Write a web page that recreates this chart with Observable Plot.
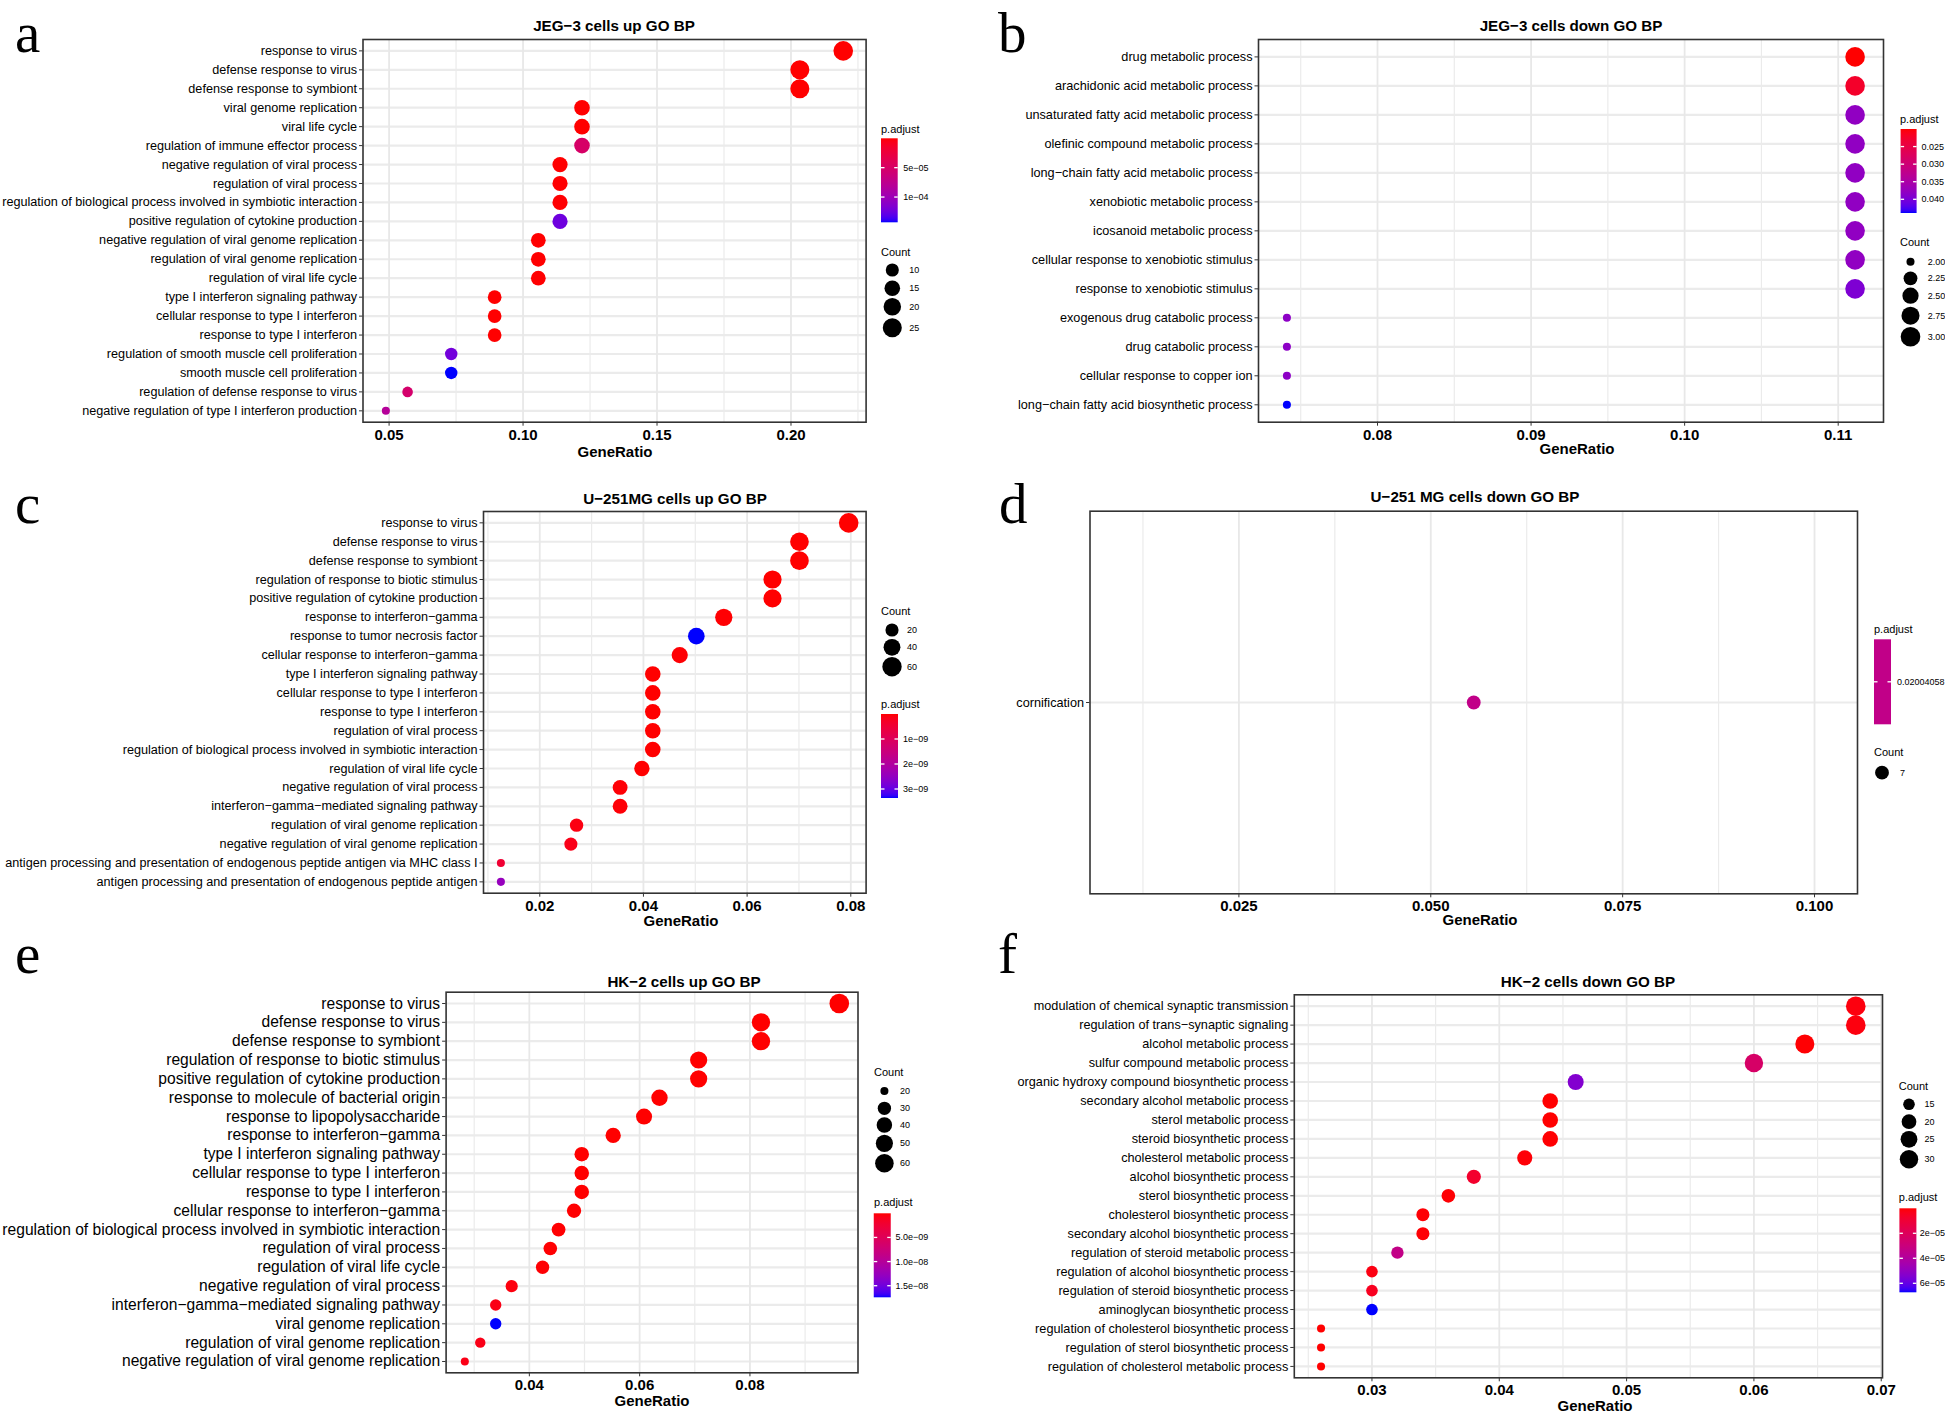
<!DOCTYPE html>
<html><head><meta charset="utf-8">
<script src="https://cdn.jsdelivr.net/npm/d3@7"></script>
<script src="https://cdn.jsdelivr.net/npm/@observablehq/plot@0.6"></script>
<style>
html,body{margin:0;padding:0;background:#fff;}
#root{position:relative;width:1945px;height:1412px;overflow:hidden;background:#fff;}
</style></head>
<body><div id="root"></div>
<script>
// ---------------- DATA ----------------
const termsA = ["response to virus","defense response to virus","defense response to symbiont","viral genome replication","viral life cycle","regulation of immune effector process","negative regulation of viral process","regulation of viral process","regulation of biological process involved in symbiotic interaction","positive regulation of cytokine production","negative regulation of viral genome replication","regulation of viral genome replication","regulation of viral life cycle","type I interferon signaling pathway","cellular response to type I interferon","response to type I interferon","regulation of smooth muscle cell proliferation","smooth muscle cell proliferation","regulation of defense response to virus","negative regulation of type I interferon production"];
const ratioA = [0.2195,0.2033,0.2033,0.1220,0.1220,0.1220,0.1138,0.1138,0.1138,0.1138,0.1057,0.1057,0.1057,0.0894,0.0894,0.0894,0.0732,0.0732,0.0569,0.0488];
const countA = [27,25,25,15,15,15,14,14,14,14,13,13,13,11,11,11,9,9,7,6];
const padjA = [2.1e-12,5.3e-11,5.3e-11,6.4e-8,9.8e-8,5.0e-5,3.1e-7,4.6e-7,4.6e-7,1.24e-4,1.5e-7,2.8e-7,3.3e-7,1.2e-7,1.2e-7,1.3e-7,1.22e-4,1.43e-4,5.3e-5,8.2e-5];

const termsB = ["drug metabolic process","arachidonic acid metabolic process","unsaturated fatty acid metabolic process","olefinic compound metabolic process","long−chain fatty acid metabolic process","xenobiotic metabolic process","icosanoid metabolic process","cellular response to xenobiotic stimulus","response to xenobiotic stimulus","exogenous drug catabolic process","drug catabolic process","cellular response to copper ion","long−chain fatty acid biosynthetic process"];
const ratioB = [0.1111,0.1111,0.1111,0.1111,0.1111,0.1111,0.1111,0.1111,0.1111,0.0741,0.0741,0.0741,0.0741];
const countB = [3,3,3,3,3,3,3,3,3,2,2,2,2];
const padjB = [0.0200,0.0224,0.0379,0.0379,0.0379,0.0379,0.0379,0.0379,0.0396,0.0383,0.0383,0.0383,0.0439];

const termsC = ["response to virus","defense response to virus","defense response to symbiont","regulation of response to biotic stimulus","positive regulation of cytokine production","response to interferon−gamma","response to tumor necrosis factor","cellular response to interferon−gamma","type I interferon signaling pathway","cellular response to type I interferon","response to type I interferon","regulation of viral process","regulation of biological process involved in symbiotic interaction","regulation of viral life cycle","negative regulation of viral process","interferon−gamma−mediated signaling pathway","regulation of viral genome replication","negative regulation of viral genome replication","antigen processing and presentation of endogenous peptide antigen via MHC class I","antigen processing and presentation of endogenous peptide antigen"];
const ratioC = [0.0796,0.0701,0.0701,0.0649,0.0649,0.0555,0.0502,0.0470,0.0418,0.0418,0.0418,0.0418,0.0418,0.0397,0.0355,0.0355,0.0271,0.0260,0.0125,0.0125];
const countC = [62,54,54,50,50,43,39,36,32,32,32,32,32,31,28,28,21,20,10,10];
const padjC = [1.2e-15,4.0e-14,4.0e-14,2.0e-12,3.0e-12,1.5e-11,3.36e-9,2.0e-11,1.0e-13,1.0e-13,1.2e-13,2.0e-12,2.0e-12,6.0e-12,3.0e-11,4.0e-11,1.0e-10,1.5e-10,4.5e-10,2.45e-9];

const termsD = ["cornification"];
const ratioD = [0.0556];
const countD = [7];
const padjD = [0.02004058];

const termsE = ["response to virus","defense response to virus","defense response to symbiont","regulation of response to biotic stimulus","positive regulation of cytokine production","response to molecule of bacterial origin","response to lipopolysaccharide","response to interferon−gamma","type I interferon signaling pathway","cellular response to type I interferon","response to type I interferon","cellular response to interferon−gamma","regulation of biological process involved in symbiotic interaction","regulation of viral process","regulation of viral life cycle","negative regulation of viral process","interferon−gamma−mediated signaling pathway","viral genome replication","regulation of viral genome replication","negative regulation of viral genome replication"];
const ratioE = [0.0962,0.0820,0.0820,0.0707,0.0707,0.0636,0.0608,0.0552,0.0495,0.0495,0.0495,0.0481,0.0453,0.0438,0.0424,0.0368,0.0339,0.0339,0.0311,0.0283];
const countE = [68,58,58,50,50,45,43,39,35,35,35,34,32,31,30,26,24,24,22,20];
const padjE = [1.0e-15,2.0e-14,2.0e-14,5.0e-13,8.0e-13,3.0e-12,6.0e-12,4.0e-12,2.0e-13,2.0e-13,2.5e-13,2.0e-11,6.0e-11,8.0e-11,1.2e-10,4.0e-10,7.0e-10,1.74e-8,7.5e-10,7.0e-10];

const termsF = ["modulation of chemical synaptic transmission","regulation of trans−synaptic signaling","alcohol metabolic process","sulfur compound metabolic process","organic hydroxy compound biosynthetic process","secondary alcohol metabolic process","sterol metabolic process","steroid biosynthetic process","cholesterol metabolic process","alcohol biosynthetic process","sterol biosynthetic process","cholesterol biosynthetic process","secondary alcohol biosynthetic process","regulation of steroid metabolic process","regulation of alcohol biosynthetic process","regulation of steroid biosynthetic process","aminoglycan biosynthetic process","regulation of cholesterol biosynthetic process","regulation of sterol biosynthetic process","regulation of cholesterol metabolic process"];
const ratioF = [0.068,0.068,0.064,0.060,0.046,0.044,0.044,0.044,0.042,0.038,0.036,0.034,0.034,0.032,0.030,0.030,0.030,0.026,0.026,0.026];
const countF = [34,34,32,30,23,22,22,22,21,19,18,17,17,16,15,15,15,13,13,13];
const padjF = [1.5e-6,1.5e-6,3.0e-7,2.35e-5,5.4e-5,1.0e-7,1.0e-7,2.0e-7,8.0e-7,7.5e-6,4.0e-7,6.0e-7,6.0e-7,3.3e-5,2.0e-6,4.5e-6,6.72e-5,1.2e-8,1.2e-8,1.2e-8];

// axis ticks (major / minor) and legend breaks
const majorA = [0.05,0.10,0.15,0.20], minorA = [0.075,0.125,0.175,0.225];
const majorB = [0.08,0.09,0.10,0.11], minorB = [0.075,0.085,0.095,0.105];
const majorC = [0.02,0.04,0.06,0.08], minorC = [0.01,0.03,0.05,0.07];
const majorD = [0.025,0.050,0.075,0.100], minorD = [0.0125,0.0375,0.0625,0.0875];
const majorE = [0.04,0.06,0.08], minorE = [0.03,0.05,0.07,0.09];
const majorF = [0.03,0.04,0.05,0.06,0.07], minorF = [0.025,0.035,0.045,0.055,0.065];

const pBreaksA = [5e-5,1e-4], pLabelsA = ["5e−05","1e−04"];
const pBreaksB = [0.025,0.030,0.035,0.040], pLabelsB = ["0.025","0.030","0.035","0.040"];
const pBreaksC = [1e-9,2e-9,3e-9], pLabelsC = ["1e−09","2e−09","3e−09"];
const pBreaksD = [0.02004058], pLabelsD = ["0.02004058"];
const pBreaksE = [5e-9,1e-8,1.5e-8], pLabelsE = ["5.0e−09","1.0e−08","1.5e−08"];
const pBreaksF = [2e-5,4e-5,6e-5], pLabelsF = ["2e−05","4e−05","6e−05"];

const cBreaksA = [10,15,20,25], cLabelsA = ["10","15","20","25"];
const cBreaksB = [2,2.25,2.5,2.75,3], cLabelsB = ["2.00","2.25","2.50","2.75","3.00"];
const cBreaksC = [20,40,60], cLabelsC = ["20","40","60"];
const cBreaksD = [7], cLabelsD = ["7"];
const cBreaksE = [20,30,40,50,60], cLabelsE = ["20","30","40","50","60"];
const cBreaksF = [15,20,25,30], cLabelsF = ["15","20","25","30"];

// ---------------- LAYOUT ----------------
const SANS = "'Liberation Sans', Arial, Helvetica, sans-serif";
const SERIF = "'Liberation Serif', 'Times New Roman', serif";

const panels = [
 {id:"a", letter:"a", title:"JEG−3 cells up GO BP", terms:termsA, ratio:ratioA, count:countA, padj:padjA, major:majorA, minor:minorA, fmt:".2f",
  pB:pBreaksA, pL:pLabelsA, cB:cBreaksA, cL:cLabelsA,
  x0:0, y0:0, W:980, H:470, L:362.5, R:865.6, T:39, B:421.7, yfs:12.65,
  titlePos:[614,25], xlabPos:[615,451.3], letterPos:[15,51.5],
  leg:{colorTitle:[881,129], bar:[881,138.3,16.7,84], colorLabelX:903.3, countTitle:[881,251.7], countX:892.3, countY:[270,288.3,306.7,327.7], countLabelX:909.3}},
 {id:"b", letter:"b", title:"JEG−3 cells down GO BP", terms:termsB, ratio:ratioB, count:countB, padj:padjB, major:majorB, minor:minorB, fmt:".2f",
  pB:pBreaksB, pL:pLabelsB, cB:cBreaksB, cL:cLabelsB,
  x0:980, y0:0, W:965, H:470, L:1258, R:1883, T:39, B:421.7, yfs:12.7,
  titlePos:[1571,25.5], xlabPos:[1577,448.5], letterPos:[998,51.5],
  leg:{colorTitle:[1900,119.3], bar:[1900.6,129,16,84], colorLabelX:1921.5, countTitle:[1900,242.3], countX:1910.5, countY:[261.7,278.3,295.7,315.7,336.7], countLabelX:1927.7}},
 {id:"c", letter:"c", title:"U−251MG cells up GO BP", terms:termsC, ratio:ratioC, count:countC, padj:padjC, major:majorC, minor:minorC, fmt:".2f",
  pB:pBreaksC, pL:pLabelsC, cB:cBreaksC, cL:cLabelsC,
  x0:0, y0:470, W:980, H:470, L:483, R:865.6, T:511, B:892.7, yfs:12.65,
  titlePos:[675,498], xlabPos:[681,920.7], letterPos:[15,522.5],
  leg:{colorTitle:[881,704], bar:[881,714,17,84], colorLabelX:903, countTitle:[881,610.7], countX:892, countY:[630,647.3,666.7], countLabelX:907}},
 {id:"d", letter:"d", title:"U−251 MG cells down GO BP", terms:termsD, ratio:ratioD, count:countD, padj:padjD, major:majorD, minor:minorD, fmt:".3f",
  pB:pBreaksD, pL:pLabelsD, cB:cBreaksD, cL:cLabelsD, xdomain:[0.0056,0.1056],
  x0:980, y0:470, W:965, H:470, L:1089.5, R:1857, T:510.7, B:893.3, yfs:12.7,
  titlePos:[1475,496.7], xlabPos:[1480,919], letterPos:[999,522.5],
  leg:{colorTitle:[1874,629], bar:[1874,639.3,17,85], colorLabelX:1897, countTitle:[1874,751.7], countX:1882, countY:[772.7], countLabelX:1900}},
 {id:"e", letter:"e", title:"HK−2 cells up GO BP", terms:termsE, ratio:ratioE, count:countE, padj:padjE, major:majorE, minor:minorE, fmt:".2f",
  pB:pBreaksE, pL:pLabelsE, cB:cBreaksE, cL:cLabelsE,
  x0:0, y0:940, W:980, H:472, L:445.6, R:857.5, T:991.7, B:1372.3, yfs:15.6,
  titlePos:[684,981.7], xlabPos:[652,1400.7], letterPos:[15,973],
  leg:{colorTitle:[874,1201.7], bar:[873.75,1213.3,17,84], colorLabelX:895.6, countTitle:[874,1071.7], countX:884.4, countY:[1091,1108.3,1125,1143.3,1163.3], countLabelX:900}},
 {id:"f", letter:"f", title:"HK−2 cells down GO BP", terms:termsF, ratio:ratioF, count:countF, padj:padjF, major:majorF, minor:minorF, fmt:".2f",
  pB:pBreaksF, pL:pLabelsF, cB:cBreaksF, cL:cLabelsF,
  x0:980, y0:940, W:965, H:472, L:1293.8, R:1882, T:994.3, B:1377.3, yfs:12.7,
  titlePos:[1588,981], xlabPos:[1595,1405], letterPos:[998,973],
  leg:{colorTitle:[1898.8,1197.3], bar:[1899.4,1208.3,17,84], colorLabelX:1919.7, countTitle:[1898.8,1085.7], countX:1909, countY:[1104.3,1121.7,1139.3,1159.3], countLabelX:1924.6}}
];

const root = document.getElementById("root");
const built = [];

for (const P of panels) {
  const data = P.terms.map((t,i) => ({term:t, ratio:P.ratio[i], count:P.count[i], p:P.padj[i]}));
  const cmin = d3.min(P.count), cmax = d3.max(P.count);
  const sz = c => cmax > cmin ? Math.sqrt(Math.max(0,(c - cmin)/(cmax - cmin))) : 0.5;
  const pmin = d3.min(P.padj), pmax = d3.max(P.padj);
  const single = !(pmax > pmin);
  const cdom = single ? [pmin*(1-1e-6), pmin*(1+1e-6)] : [pmin, pmax];
  let xdom = P.xdomain;
  if (!xdom) {
    const lo = d3.min(P.ratio), hi = d3.max(P.ratio), pad = (hi - lo)*0.05;
    xdom = [lo - pad, hi + pad];
  }
  const chart = Plot.plot({
    width: P.W, height: P.H,
    marginLeft: P.L - P.x0, marginRight: P.x0 + P.W - P.R,
    marginTop: P.T - P.y0, marginBottom: P.y0 + P.H - P.B,
    style: {fontFamily: SANS, color: "black", background: "transparent", overflow: "visible"},
    x: {domain: xdom, label: null},
    y: {type: "point", domain: P.terms, padding: 0.6, round: false, label: null},
    r: {type: "linear", domain: [0,1], range: [4.03, 9.8]},
    color: {type: "linear", domain: cdom, range: ["red","blue"], interpolate: d3.interpolateLab},
    marks: [
      Plot.gridY(P.terms, {stroke: "#ebebeb", strokeOpacity: 1, strokeWidth: 2.2}),
      Plot.gridX(P.minor, {stroke: "#ebebeb", strokeOpacity: 1, strokeWidth: 1.2}),
      Plot.gridX(P.major, {stroke: "#e8e8e8", strokeOpacity: 1, strokeWidth: 1.8}),
      Plot.dot(data, {x: "ratio", y: "term", r: d => sz(d.count), fill: "p"}),
      Plot.frame({stroke: "#333333", strokeWidth: 1.6}),
      Plot.axisX({ticks: P.major, tickFormat: d3.format(P.fmt), tickSize: 4, tickPadding: 3, fontSize: 15, fontWeight: "bold", stroke: "#333", label: null}),
      Plot.axisY({tickSize: 3.5, tickPadding: 2.5, fontSize: P.yfs, stroke: "#333", label: null})
    ]
  });
  chart.style.position = "absolute";
  chart.style.left = P.x0 + "px";
  chart.style.top = P.y0 + "px";
  chart.style.maxWidth = "none";
  root.appendChild(chart);
  built.push({P, chart, sz, cdom, single});
}

// ---------------- OVERLAY: titles, letters, axis titles, legends ----------------
const svg = d3.select(root).append("svg")
  .attr("width", 1945).attr("height", 1412)
  .style("position", "absolute").style("left", "0px").style("top", "0px")
  .style("pointer-events", "none").style("overflow", "visible")
  .attr("font-family", SANS);
const defs = svg.append("defs");

for (const {P, chart, sz, cdom, single} of built) {
  const colorS = chart.scale("color");
  const rS = chart.scale("r");
  // panel letter
  svg.append("text").attr("x", P.letterPos[0]).attr("y", P.letterPos[1])
    .attr("font-family", SERIF).attr("font-size", 57).attr("fill", "black").text(P.letter);
  // title
  svg.append("text").attr("x", P.titlePos[0]).attr("y", P.titlePos[1])
    .attr("text-anchor", "middle").attr("dominant-baseline", "central")
    .attr("font-size", 15.2).attr("font-weight", "bold").attr("fill", "black").text(P.title);
  // x axis title
  svg.append("text").attr("x", P.xlabPos[0]).attr("y", P.xlabPos[1])
    .attr("text-anchor", "middle").attr("dominant-baseline", "central")
    .attr("font-size", 15).attr("font-weight", "bold").attr("fill", "black").text("GeneRatio");

  const G = P.leg;
  // colour bar legend
  svg.append("text").attr("x", G.colorTitle[0]).attr("y", G.colorTitle[1])
    .attr("dominant-baseline", "central").attr("font-size", 11).attr("fill", "black").text("p.adjust");
  const [bx, by, bw, bh] = G.bar;
  let barFill;
  if (single) {
    barFill = colorS.apply(P.padj[0]);
  } else {
    const gid = "grad_" + P.id;
    const grad = defs.append("linearGradient").attr("id", gid).attr("x1", 0).attr("y1", 0).attr("x2", 0).attr("y2", 1);
    for (let k = 0; k <= 40; k++) {
      const v = cdom[0] + (cdom[1] - cdom[0]) * k / 40;
      grad.append("stop").attr("offset", k / 40).attr("stop-color", colorS.apply(v));
    }
    barFill = `url(#${gid})`;
  }
  svg.append("rect").attr("x", bx).attr("y", by).attr("width", bw).attr("height", bh).attr("fill", barFill);
  P.pB.forEach((v, i) => {
    const f = single ? 0.5 : (v - cdom[0]) / (cdom[1] - cdom[0]);
    const yy = by + f * bh;
    svg.append("line").attr("x1", bx).attr("x2", bx + 3.5).attr("y1", yy).attr("y2", yy).attr("stroke", "white").attr("stroke-width", 1.3);
    svg.append("line").attr("x1", bx + bw - 3.5).attr("x2", bx + bw).attr("y1", yy).attr("y2", yy).attr("stroke", "white").attr("stroke-width", 1.3);
    svg.append("text").attr("x", G.colorLabelX).attr("y", yy).attr("dominant-baseline", "central")
      .attr("font-size", 9).attr("fill", "black").text(P.pL[i]);
  });
  // count legend
  svg.append("text").attr("x", G.countTitle[0]).attr("y", G.countTitle[1])
    .attr("dominant-baseline", "central").attr("font-size", 11).attr("fill", "black").text("Count");
  P.cB.forEach((v, i) => {
    const yy = G.countY[i];
    svg.append("circle").attr("cx", G.countX).attr("cy", yy).attr("r", rS.apply(sz(v))).attr("fill", "black");
    svg.append("text").attr("x", G.countLabelX).attr("y", yy).attr("dominant-baseline", "central")
      .attr("font-size", 9).attr("fill", "black").text(P.cL[i]);
  });
}
</script>
</body></html>
